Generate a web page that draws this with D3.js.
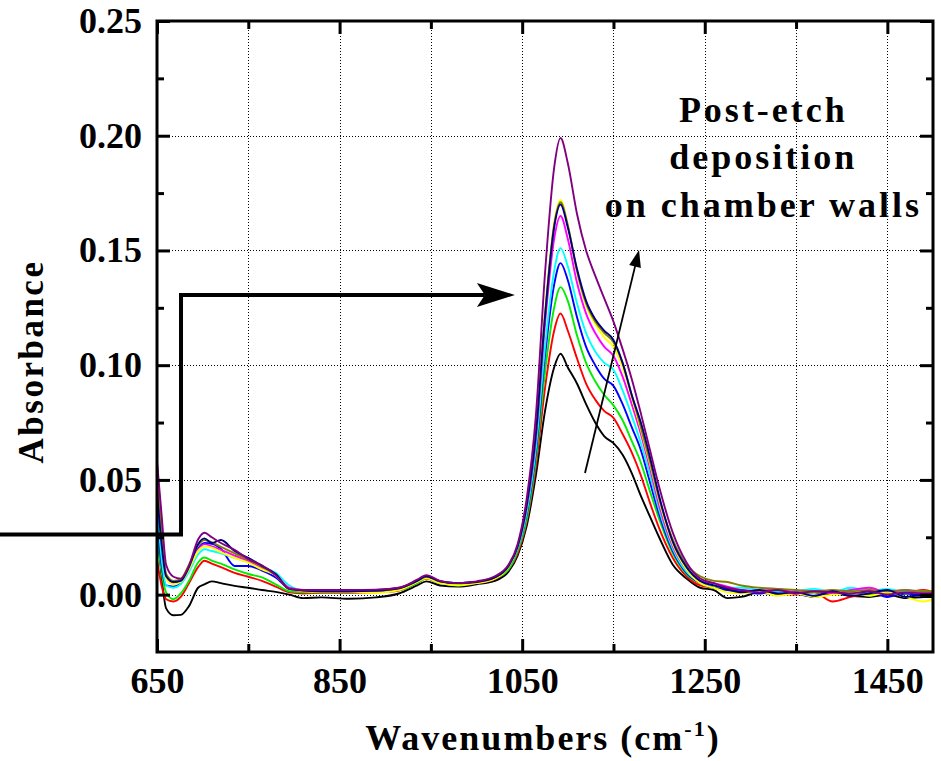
<!DOCTYPE html>
<html>
<head>
<meta charset="utf-8">
<script src="https://cdn.jsdelivr.net/npm/d3@7"></script>
<style>
  body { margin: 0; background: #fff; }
  svg { display: block; }
  text { font-family: "Liberation Serif", "Times New Roman", serif; font-weight: bold; fill: #000; }
</style>
</head>
<body>
<div id="chart"></div>
<script>
// wavenumber grid shared by every spectrum (cm-1)
const wavenumbers = [650, 655, 660, 668, 676, 685, 695, 702, 710, 720, 735, 750, 765, 780, 795, 810, 830, 860, 890, 915,
	935, 945, 960, 980, 1000, 1020, 1035, 1045, 1055, 1065, 1075, 1085, 1092, 1100, 1110, 1120, 1130, 1140, 1150, 1160,
	1170, 1180, 1190, 1200, 1215, 1230, 1245, 1260, 1275, 1290, 1310, 1330, 1350, 1370, 1390, 1410, 1430, 1450, 1470, 1490, 1500];

const black = [.030, .008, -.006, -.009, -.0088, -.005, .003, .0045, .0058, .005, .0038, .003, .002, .0012, 0, -.0015, -.0012, -.0018, -.0012, .0005,
	.004, .0058, .004, .0035, .0045, .006, .010, .017, .030, .052, .080, .099, .105, .099, .092, .083, .075, .069, .066, .061,
	.053, .043, .034, .025, .013, .007, .003, .002, -.0015, -.001, .001, 0, .0005, -.001, .0005, -.0005, -.001, 0, -.0015, -.001, -.001];
const red = [.015, .004, -.002, -.003, -.001, .005, .012, .0148, .0135, .012, .0095, .0078, .006, .0035, .001, .0005, .0008, .0008, .001, .0018,
	.005, .007, .005, .0045, .005, .0068, .011, .018, .032, .056, .090, .115, .1225, .115, .103, .092, .085, .080, .077, .070,
	.062, .052, .040, .029, .016, .008, .004, .003, .002, .001, .0015, .0005, 0, .001, -.003, -.001, .0005, .0015, .001, .002, .001];
const green = [.028, .010, .001, -.002, .0005, .006, .014, .0162, .0148, .0135, .011, .009, .0075, .0045, .0015, .001, .001, .001, .0012, .002,
	.005, .0072, .005, .0045, .0052, .007, .011, .019, .033, .059, .097, .125, .134, .128, .113, .101, .093, .087, .0825, .076,
	.067, .0575, .045, .033, .018, .009, .005, .003, .002, .0015, .001, .0015, .0005, .001, .0005, .001, 0, .001, .0005, .001, .001];
const blue = [.034, .013, .004, .0035, .005, .011, .020, .0225, .0222, .020, .0125, .0125, .0105, .0075, .0025, .0015, .0015, .0012, .0015, .0025,
	.0055, .0075, .0055, .005, .0055, .0072, .012, .020, .035, .062, .104, .135, .1445, .137, .121, .108, .100, .094, .091, .083,
	.073, .063, .049, .035, .019, .0095, .005, .003, .002, .0015, .0005, .002, .0005, -.001, .001, 0, .0015, -.001, .0005, -.0005, 0];
const cyan = [.040, .016, .004, .003, .0045, .010, .0175, .0198, .019, .018, .016, .0142, .012, .0095, .004, .002, .002, .0018, .002, .0028,
	.0058, .0078, .0058, .005, .0055, .0072, .012, .020, .036, .064, .108, .141, .151, .143, .127, .114, .106, .101, .098, .089,
	.078, .066, .052, .037, .020, .010, .0055, .004, .003, .003, .002, .001, .0015, .0025, .001, .003, .0015, .0025, .001, .0015, .0005];
const magenta = [.057, .030, .008, .005, .0058, .0115, .0195, .022, .021, .0195, .017, .0145, .0115, .0085, .003, .002, .0018, .0018, .002, .003,
	.006, .0078, .0058, .005, .0055, .0075, .0125, .021, .038, .068, .118, .155, .165, .155, .136, .1225, .114, .108, .104, .095,
	.083, .070, .055, .039, .021, .011, .006, .005, .0035, .002, .0015, .0025, .001, .0015, .0005, .002, .003, .001, .002, .0005, .001];
const yellow = [.050, .024, .007, .0045, .0055, .011, .019, .021, .0205, .0185, .016, .014, .011, .0085, .0025, .0015, .0012, .0012, .0008, .002,
	.0055, .0072, .005, .004, .005, .007, .012, .021, .039, .071, .123, .162, .172, .161, .141, .126, .118, .112, .108, .099,
	.086, .072, .057, .041, .022, .011, .005, .003, .001, .0005, .0015, -.0005, .0005, -.001, 0, .0005, -.0005, .001, -.001, -.003, -.002];
const olive = [.050, .027, .009, .006, .0068, .013, .0215, .0238, .0228, .0208, .018, .0152, .0122, .0085, .0025, .0018, .0015, .0015, .0018, .0028,
	.006, .0078, .0058, .005, .0055, .0075, .0125, .021, .039, .070, .122, .161, .171, .161, .141, .127, .119, .114, .110, .101,
	.087, .073, .058, .042, .024, .013, .008, .006, .0055, .004, .003, .0025, .002, .0015, .002, .0015, .002, .0015, .002, .0015, .0015];
const navy = [.045, .022, .008, .0055, .006, .012, .022, .0245, .0225, .0238, .019, .016, .0125, .009, .0025, .0018, .0015, .0015, .0018, .0028,
	.006, .008, .0058, .005, .0055, .0075, .0125, .021, .039, .070, .121, .160, .170, .160, .142, .128, .120, .115, .111, .101,
	.087, .075, .060, .043, .023, .012, .006, .004, .0025, .001, .002, .0005, .001, -.0005, .0015, -.0005, .0005, .002, -.001, 0, 0];
const purple = [.058, .035, .013, .0078, .007, .0125, .024, .027, .025, .0225, .0195, .0155, .0128, .0085, .0025, .002, .002, .002, .0022, .003,
	.0065, .0085, .006, .005, .0058, .008, .013, .022, .042, .078, .140, .186, .199, .188, .166, .150, .139, .129, .119, .107,
	.094, .079, .063, .047, .027, .014, .007, .005, .003, .002, .001, .002, .0005, .0015, .001, .0005, .0015, 0, .001, .0005, .0005];

const spectra = [black, red, green, blue, cyan, magenta, yellow, olive, navy, purple];
const spectrumColors = ["#000000", "#ff0000", "#00ee00", "#0000ff", "#00ffff", "#ff00ff", "#ffff00", "#808000", "#000080", "#800080"];

const xMajorTicks = [650, 850, 1050, 1250, 1450];
const xMinorTicks = [750, 950, 1150, 1350];
const xGrid = [750, 850, 950, 1050, 1150, 1250, 1350, 1450];
const yMajorTicks = [0, 0.05, 0.10, 0.15, 0.20, 0.25];
const yMinorTicks = [0.025, 0.075, 0.125, 0.175, 0.225];
const yGrid = [0, 0.05, 0.10, 0.15, 0.20];

// annotation: step arrow (wavenumber, absorbance) and the thin trend arrow
const stepArrow = [[478, 0.0262], [676.3, 0.0262], [676.3, 0.1306], [1042, 0.1306]];
const trendArrow = [[1118.8, 0.053], [1178, 0.1502]];
const noteLines = ["Post-etch", "deposition", "on chamber walls"];
const noteAnchor = [1312, 0.206];

const W = 941, H = 761;
const PLOT = { LEFT: 157, RIGHT: 933, TOP: 21, BOTTOM: 652 };

const svg = d3.select("#chart").append("svg").attr("width", W).attr("height", H);

const x = d3.scaleLinear().domain([650, 1500]).range([PLOT.LEFT, PLOT.RIGHT]);
const y = d3.scaleLinear().domain([-0.025, 0.25]).range([PLOT.BOTTOM, PLOT.TOP]);

// dotted grid
const grid = svg.append("g").attr("stroke", "#000").attr("stroke-width", 1).attr("stroke-dasharray", "1,2")
	.attr("shape-rendering", "crispEdges");
grid.selectAll(".gx").data(xGrid).join("line")
	.attr("x1", (d) => Math.round(x(d)) + 0.5).attr("x2", (d) => Math.round(x(d)) + 0.5)
	.attr("y1", PLOT.TOP).attr("y2", PLOT.BOTTOM);
grid.selectAll(".gy").data(yGrid).join("line")
	.attr("x1", PLOT.LEFT).attr("x2", PLOT.RIGHT)
	.attr("y1", (d) => Math.round(y(d)) + 0.5).attr("y2", (d) => Math.round(y(d)) + 0.5);

// spectra
svg.append("defs").append("clipPath").attr("id", "clip")
	.append("rect").attr("x", PLOT.LEFT).attr("y", PLOT.TOP)
	.attr("width", PLOT.RIGHT - PLOT.LEFT).attr("height", PLOT.BOTTOM - PLOT.TOP);

const line = d3.line().x((d, i) => x(wavenumbers[i])).y((d) => y(d)).curve(d3.curveMonotoneX);
svg.append("g").attr("clip-path", "url(#clip)")
	.selectAll("path").data(spectra).join("path")
	.attr("d", line)
	.attr("fill", "none")
	.attr("stroke", (d, i) => spectrumColors[i])
	.attr("stroke-width", 1.9)
	.attr("stroke-linejoin", "round");

// axes, ticks inside and mirrored
function styleAxis(g) {
	g.select(".domain").remove();
	g.selectAll(".tick line").attr("stroke", "#000").attr("stroke-width", 3);
	g.selectAll(".tick text").style("font-size", "36px").style("font-family", "Liberation Serif, serif").style("font-weight", "bold");
}

svg.append("g").attr("transform", `translate(0,${PLOT.BOTTOM})`)
	.call(d3.axisBottom(x).tickValues(xMajorTicks).tickSize(-13).tickPadding(15).tickFormat(d3.format("d")))
	.call(styleAxis);
svg.append("g").attr("transform", `translate(0,${PLOT.BOTTOM})`)
	.call(d3.axisBottom(x).tickValues(xMinorTicks).tickSize(-8).tickFormat(""))
	.call(styleAxis);
svg.append("g").attr("transform", `translate(0,${PLOT.TOP})`)
	.call(d3.axisTop(x).tickValues(xMajorTicks).tickSize(-13).tickFormat(""))
	.call(styleAxis);
svg.append("g").attr("transform", `translate(0,${PLOT.TOP})`)
	.call(d3.axisTop(x).tickValues(xMinorTicks).tickSize(-8).tickFormat(""))
	.call(styleAxis);

svg.append("g").attr("transform", `translate(${PLOT.LEFT},0)`)
	.call(d3.axisLeft(y).tickValues(yMajorTicks).tickSize(-13).tickPadding(15).tickFormat(d3.format(".2f")))
	.call(styleAxis);
svg.append("g").attr("transform", `translate(${PLOT.LEFT},0)`)
	.call(d3.axisLeft(y).tickValues(yMinorTicks).tickSize(-7).tickFormat(""))
	.call(styleAxis);
svg.append("g").attr("transform", `translate(${PLOT.RIGHT},0)`)
	.call(d3.axisRight(y).tickValues(yMajorTicks).tickSize(-13).tickFormat(""))
	.call(styleAxis);
svg.append("g").attr("transform", `translate(${PLOT.RIGHT},0)`)
	.call(d3.axisRight(y).tickValues(yMinorTicks).tickSize(-7).tickFormat(""))
	.call(styleAxis);

// frame
svg.append("rect")
	.attr("x", PLOT.LEFT).attr("y", PLOT.TOP)
	.attr("width", PLOT.RIGHT - PLOT.LEFT).attr("height", PLOT.BOTTOM - PLOT.TOP)
	.attr("fill", "none").attr("stroke", "#000").attr("stroke-width", 3);

// axis titles
const xTitle = svg.append("text")
	.attr("x", (PLOT.LEFT + PLOT.RIGHT) / 2 - 2).attr("y", 750)
	.attr("text-anchor", "middle")
	.style("font-size", "36px").style("letter-spacing", "2px");
xTitle.append("tspan").text("Wavenumbers (cm");
xTitle.append("tspan").attr("dy", -14).style("font-size", "22px").text("-1");
xTitle.append("tspan").attr("dy", 14).text(")");

svg.append("text")
	.attr("transform", `translate(43,${(PLOT.TOP + PLOT.BOTTOM) / 2 + 25}) rotate(-90)`)
	.attr("text-anchor", "middle")
	.style("font-size", "35px").style("letter-spacing", "2.5px")
	.text("Absorbance");

// step arrow
const tip = stepArrow[stepArrow.length - 1];
const stepPts = stepArrow.map((d) => [x(d[0]), y(d[1])]);
stepPts[stepPts.length - 1][0] -= 30;
svg.append("path")
	.attr("d", d3.line()(stepPts))
	.attr("fill", "none").attr("stroke", "#000").attr("stroke-width", 4)
	.attr("stroke-linejoin", "miter");
const tx = x(tip[0]), ty = y(tip[1]);
svg.append("path")
	.attr("d", `M${tx},${ty} L${tx - 38},${ty - 12} L${tx - 30},${ty} L${tx - 38},${ty + 12} Z`)
	.attr("fill", "#000");

// trend arrow
const ax0 = x(trendArrow[0][0]), ay0 = y(trendArrow[0][1]);
const ax1 = x(trendArrow[1][0]), ay1 = y(trendArrow[1][1]);
const ang = Math.atan2(ay1 - ay0, ax1 - ax0);
const headLen = 17, headHalf = 6;
svg.append("line")
	.attr("x1", ax0).attr("y1", ay0)
	.attr("x2", ax1 - Math.cos(ang) * (headLen - 3)).attr("y2", ay1 - Math.sin(ang) * (headLen - 3))
	.attr("stroke", "#000").attr("stroke-width", 1.8);
const bx = ax1 - Math.cos(ang) * headLen, by = ay1 - Math.sin(ang) * headLen;
svg.append("path")
	.attr("d", `M${ax1},${ay1} L${bx - Math.sin(ang) * headHalf},${by + Math.cos(ang) * headHalf} L${bx + Math.sin(ang) * headHalf},${by - Math.cos(ang) * headHalf} Z`)
	.attr("fill", "#000");

// note text
svg.append("g").selectAll("text").data(noteLines).join("text")
	.attr("x", x(noteAnchor[0]) + 2)
	.attr("y", (d, i) => y(noteAnchor[1]) + i * 47.5)
	.attr("text-anchor", "middle")
	.style("font-size", "36px").style("letter-spacing", "3px")
	.text((d) => d);
</script>
</body>
</html>
